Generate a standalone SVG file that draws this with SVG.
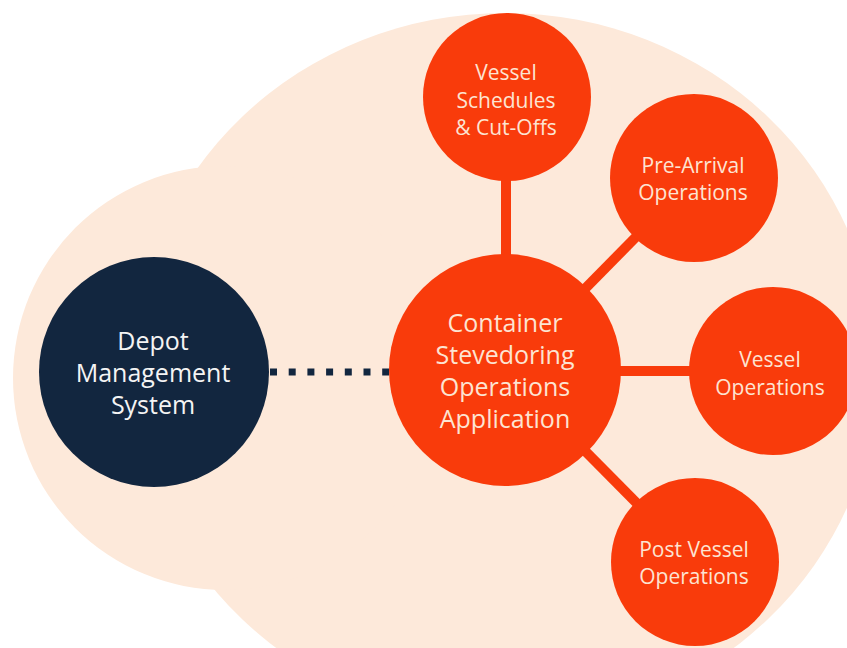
<svg xmlns="http://www.w3.org/2000/svg" width="847" height="648" viewBox="0 0 847 648">
  <style>
    .bg { fill: #fde9da; }
    .orange { fill: #f93b0b; }
    .navy { fill: #12263f; }
    .link { stroke: #f93b0b; stroke-width: 10; fill: none; }
    .dash { stroke: #12263f; stroke-width: 7; stroke-dasharray: 7 11.7; fill: none; }
    text { font-family: "Open Sans", "Noto Sans", "Liberation Sans", sans-serif; text-anchor: middle; }
    .big { font-size: 25px; }
    .small { font-size: 21px; }
    .light { fill: #fde4d2; }
    .white { fill: #f4f4f4; }
  </style>
  <rect width="847" height="648" fill="#ffffff"/>
  <g id="background">
    <ellipse class="bg" cx="505" cy="368" rx="372" ry="355"/>
    <circle class="bg" cx="225" cy="378" r="212"/>
  </g>
  <g id="connectors">
    <line class="dash" x1="270" y1="372" x2="392" y2="372"/>
    <line class="link" x1="506" y1="370" x2="506" y2="97"/>
    <line class="link" x1="505" y1="370" x2="694" y2="178"/>
    <line class="link" x1="505" y1="371" x2="773" y2="371"/>
    <line class="link" x1="505" y1="370" x2="695" y2="562"/>
  </g>
  <g id="depot">
    <circle class="navy" cx="154" cy="372" r="115"/>
    <text class="big white" x="153" y="350">Depot</text>
    <text class="big white" x="153" y="382">Management</text>
    <text class="big white" x="153" y="414">System</text>
  </g>
  <g id="center">
    <circle class="orange" cx="505" cy="370" r="116"/>
    <text class="big light" x="505" y="332">Container</text>
    <text class="big light" x="505" y="364">Stevedoring</text>
    <text class="big light" x="505" y="396">Operations</text>
    <text class="big light" x="505" y="428">Application</text>
  </g>
  <g id="vessel-schedules">
    <circle class="orange" cx="507" cy="97" r="84"/>
    <text class="small light" x="506" y="80">Vessel</text>
    <text class="small light" x="506" y="108">Schedules</text>
    <text class="small light" x="506" y="135">&amp; Cut-Offs</text>
  </g>
  <g id="pre-arrival">
    <circle class="orange" cx="694" cy="178" r="84"/>
    <text class="small light" x="693" y="173">Pre-Arrival</text>
    <text class="small light" x="693" y="200">Operations</text>
  </g>
  <g id="vessel-operations">
    <circle class="orange" cx="773" cy="371" r="84"/>
    <text class="small light" x="770" y="367">Vessel</text>
    <text class="small light" x="770" y="395">Operations</text>
  </g>
  <g id="post-vessel">
    <circle class="orange" cx="695" cy="562" r="84"/>
    <text class="small light" x="694" y="557">Post Vessel</text>
    <text class="small light" x="694" y="584">Operations</text>
  </g>
</svg>
